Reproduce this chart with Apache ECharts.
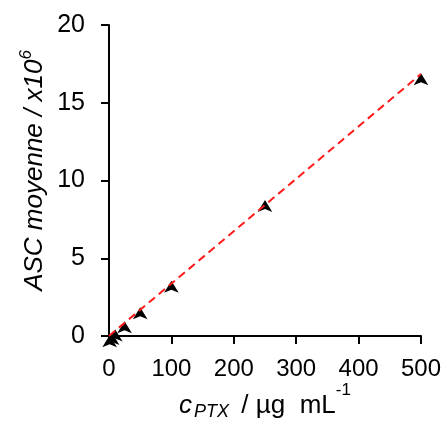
<!DOCTYPE html>
<html><head><meta charset="utf-8">
<script src="https://cdn.jsdelivr.net/npm/echarts@6/dist/echarts.min.js"></script>
<style>html,body{margin:0;padding:0;background:#fff}#c{width:444px;height:421px}</style>
</head><body><div id="c"></div>
<script>
var concentrations = [1, 5, 10, 25, 50, 100, 250, 500];
var ascMeans = [0.05, 0.2, 0.42, 0.95, 1.85, 3.55, 8.75, 16.9];
var fitLine = [[0, 0], [500, 16.85]];
var xTicks = [0, 100, 200, 300, 400, 500];
var yTicks = [0, 5, 10, 15, 20];

var chart = echarts.init(document.getElementById('c'), null, {renderer: 'canvas'});
var font = 'Liberation Sans, Arial, sans-serif';
chart.setOption({
  animation: false,
  grid: {left: 109, right: 23, top: 25, bottom: 85, containLabel: false, outerBoundsMode: 'none'},
  xAxis: {
    type: 'value', min: xTicks[0], max: xTicks[xTicks.length-1], interval: 100,
    axisLine: {onZero: false, lineStyle: {color: '#000', width: 2}},
    axisTick: {inside: false, length: 8, lineStyle: {color: '#000', width: 2}},
    axisLabel: {color: '#000', fontSize: 24, fontFamily: font, margin: 21},
    splitLine: {show: false},
    name: '{i|c}{sub|PTX}{n| / µg  mL}{sup|-1}',
    nameLocation: 'middle', nameGap: 41, nameMoveOverlap: false,
    nameTextStyle: {
      rich: {
        i: {fontSize: 26, fontStyle: 'italic', fontFamily: font, color: '#000', verticalAlign: 'middle', lineHeight: 57, padding: [0, 2, 0, 0]},
        sub: {fontSize: 18, fontStyle: 'italic', fontFamily: font, color: '#000', verticalAlign: 'middle', padding: [13, 5, 0, 0]},
        n: {fontSize: 26, fontFamily: font, color: '#000', verticalAlign: 'middle', lineHeight: 57},
        sup: {fontSize: 17, fontFamily: font, color: '#000', verticalAlign: 'top', padding: [5, 0, 0, 0]}
      }
    }
  },
  yAxis: {
    type: 'value', min: yTicks[0], max: yTicks[yTicks.length-1], interval: 5,
    axisLine: {onZero: false, lineStyle: {color: '#000', width: 2}},
    axisTick: {inside: false, length: 8, lineStyle: {color: '#000', width: 2}},
    axisLabel: {color: '#000', fontSize: 25, fontFamily: font, margin: 24},
    splitLine: {show: false},
    name: '{n|ASC moyenne / x10}{sup|6}',
    nameLocation: 'middle', nameGap: 58, nameRotate: 90, nameMoveOverlap: false,
    nameTextStyle: {
      rich: {
        n: {fontSize: 26, fontStyle: 'italic', fontFamily: font, color: '#000', verticalAlign: 'middle', lineHeight: 33, padding: [0, 0, 0, 20]},
        sup: {fontSize: 17, fontStyle: 'italic', fontFamily: font, color: '#000', verticalAlign: 'top', lineHeight: 12}
      }
    }
  },
  series: [
    {
      type: 'scatter', z: 2,
      data: concentrations.map(function(c, i){ return [c, ascMeans[i]]; }),
      symbol: 'arrow', symbolSize: [11, 12],
      itemStyle: {color: '#000', opacity: 1}
    },
    {
      type: 'line', z: 3, data: fitLine, showSymbol: false, symbol: 'none',
      lineStyle: {color: '#ff1a1a', width: 2, type: [8, 5]}
    }
  ]
});
</script></body></html>
